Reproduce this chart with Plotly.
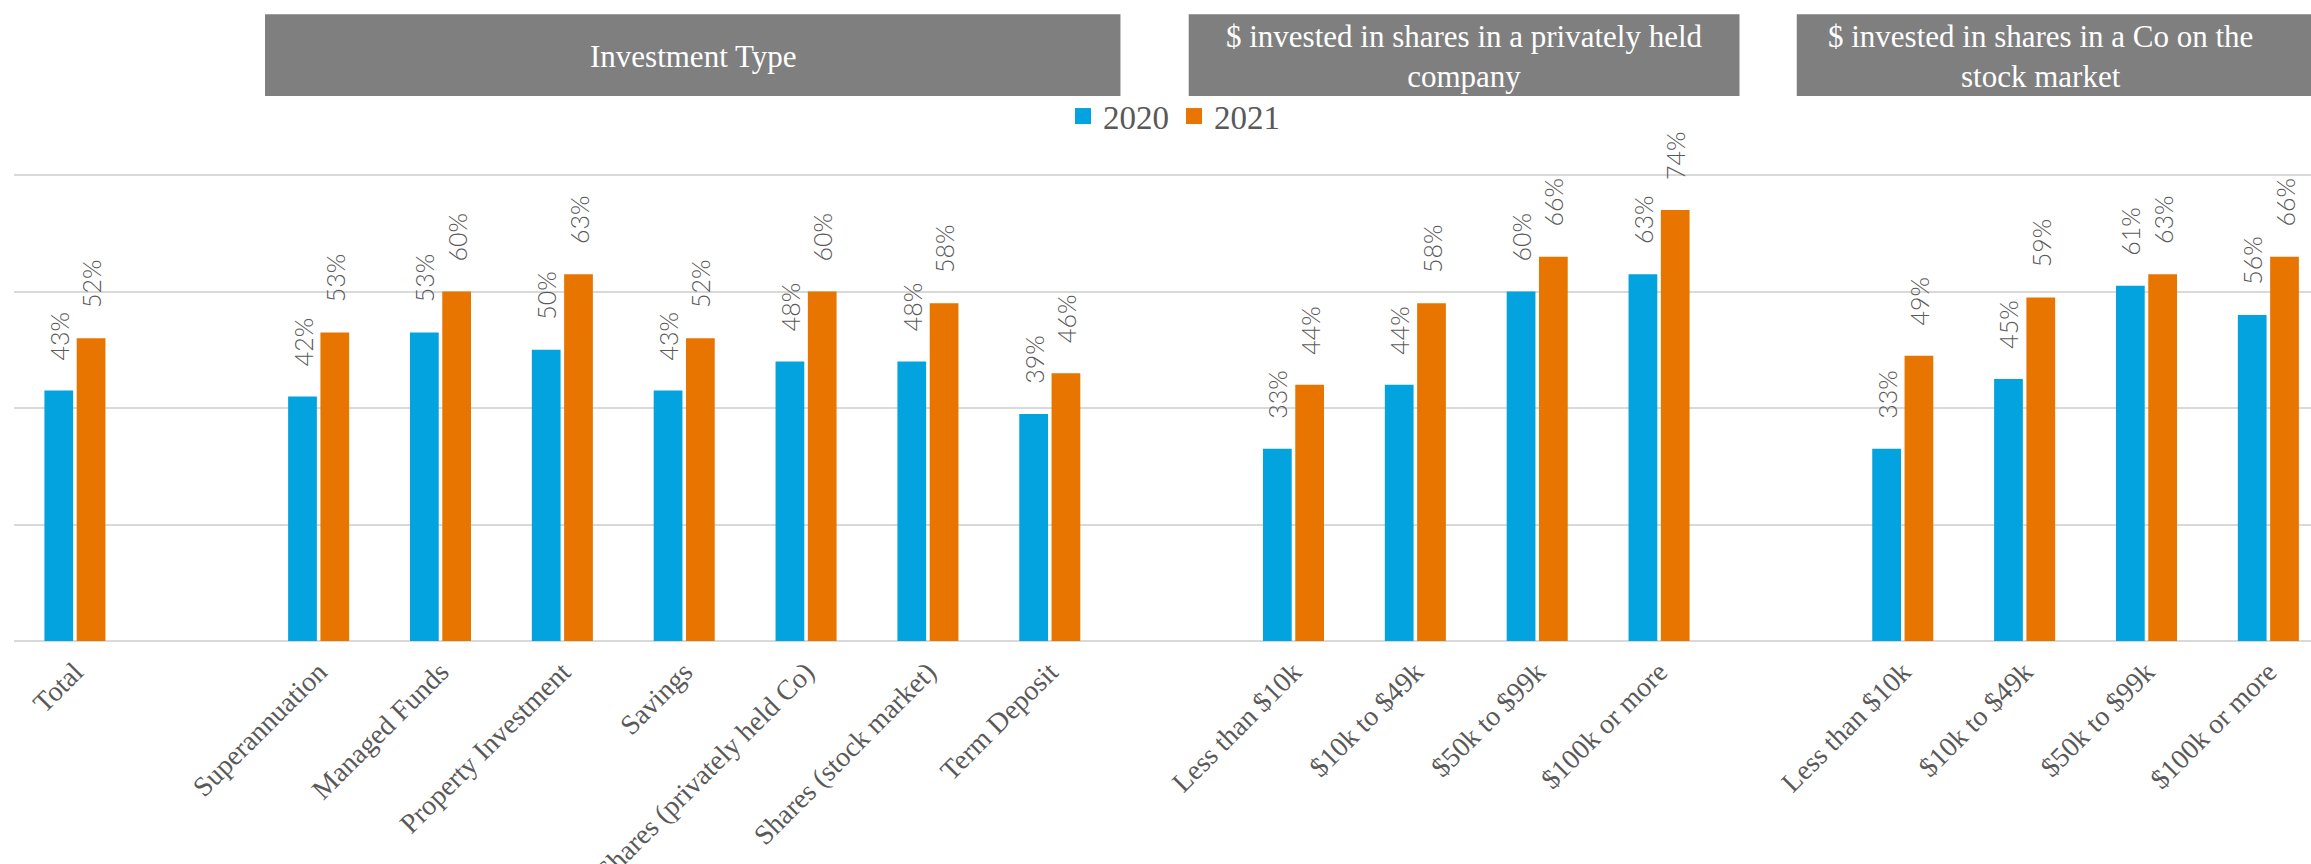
import plotly.graph_objects as go

# Category slots along the x axis; None marks an empty spacer slot between sections
categories = [
    "Total", None,
    "Superannuation", "Managed Funds", "Property Investment", "Savings",
    "Shares (privately held Co)", "Shares (stock market)", "Term Deposit", None,
    "Less than $10k", "$10k to $49k", "$50k to $99k", "$100k or more", None,
    "Less than $10k", "$10k to $49k", "$50k to $99k", "$100k or more",
]
pct_2020 = [43, None, 42, 53, 50, 43, 48, 48, 39, None, 33, 44, 60, 63, None, 33, 45, 61, 56]
pct_2021 = [52, None, 53, 60, 63, 52, 60, 58, 46, None, 44, 58, 66, 74, None, 49, 59, 63, 66]

section_titles = [
    "Investment Type",
    "$ invested in shares in a privately held<br>company",
    "$ invested in shares in a Co on the<br>stock market",
]
# horizontal extent of each section header, in category-slot units
section_spans = [(1.56, 8.58), (9.14, 13.66), (14.13, 18.6)]
section_text_x = [5.07, 11.4, 16.13]

series = [("2020", pct_2020, "#02A3DE"), ("2021", pct_2021, "#E87500")]

slots = list(range(len(categories)))
tick_text = [c if c else "" for c in categories]

GREY_TEXT = "#595959"
PAD = "\u00a0\u00a0\u00a0\u00a0"

fig = go.Figure()
for name, vals, color in series:
    fig.add_trace(go.Bar(
        x=slots,
        y=[v / 100 if v is not None else None for v in vals],
        name=name,
        marker=dict(color=color, line=dict(width=0)),
        text=[PAD + f"{v}%" if v is not None else "" for v in vals],
        textposition="outside",
        textangle=-90,
        constraintext="none",
        cliponaxis=False,
        textfont=dict(family="Lato", size=25, color=GREY_TEXT, weight=300),
        showlegend=False,
        hoverinfo="skip",
    ))
    # legend swatch
    fig.add_trace(go.Scatter(
        x=[None], y=[None], mode="markers", name=name,
        marker=dict(symbol="square", size=17, color=color),
    ))

for title, (x0, x1), tx in zip(section_titles, section_spans, section_text_x):
    fig.add_shape(type="rect", xref="x", yref="paper", x0=x0, x1=x1,
                  y0=1.167, y1=1.342, fillcolor="#7F7F7F", line=dict(width=0),
                  layer="below")
    fig.add_annotation(xref="x", yref="paper", x=tx, y=1.252, text=title,
                       showarrow=False, xanchor="center", yanchor="middle",
                       font=dict(family="Liberation Serif", size=31, color="white"))

fig.update_layout(
    width=2311, height=864,
    margin=dict(l=14, r=0, t=174, b=223, autoexpand=False),
    paper_bgcolor="white", plot_bgcolor="white",
    barmode="group", bargap=0.47, bargroupgap=0.11,
    showlegend=True,
    legend=dict(orientation="h", x=0.505, y=1.124, xanchor="center", yanchor="middle",
                font=dict(family="Liberation Serif", size=33, color=GREY_TEXT),
                itemsizing="trace", bgcolor="rgba(0,0,0,0)"),
    xaxis=dict(range=[-0.5, 18.35], tickmode="array", tickvals=slots, ticktext=tick_text,
               tickangle=-45, showgrid=False, zeroline=False, showline=False, ticks="",
               automargin=False, ticklabelstandoff=8,
               tickfont=dict(family="Liberation Serif", size=28, color=GREY_TEXT)),
    yaxis=dict(range=[0, 0.802], tickvals=[0.2, 0.4, 0.6, 0.8], showticklabels=False,
               ticks="", automargin=False,
               showgrid=True, gridcolor="#D9D9D9", gridwidth=1.5,
               zeroline=True, zerolinecolor="#D9D9D9", zerolinewidth=2, showline=False),
)

fig.write_html("out.html")
